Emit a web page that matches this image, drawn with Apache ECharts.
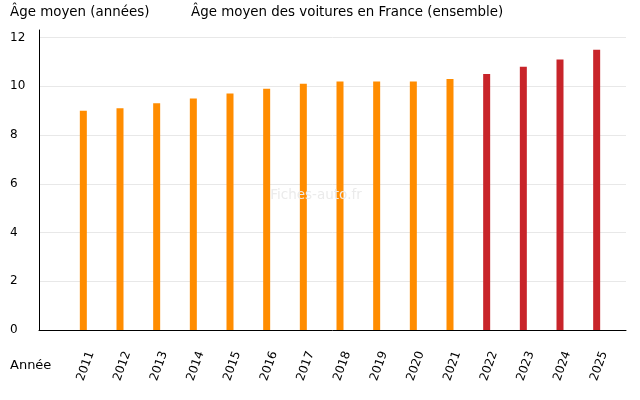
<!DOCTYPE html>
<html>
<head>
<meta charset="utf-8">
<script src="https://cdn.jsdelivr.net/npm/echarts@6/dist/echarts.min.js"></script>
<style>html,body{margin:0;padding:0;background:#fff}#c{width:640px;height:400px}</style>
</head>
<body>
<div id="c"></div>
<script>
const years = ['2011','2012','2013','2014','2015','2016','2017','2018','2019','2020','2021','2022','2023','2024','2025'];
const ages = [9.0, 9.1, 9.3, 9.5, 9.7, 9.9, 10.1, 10.2, 10.2, 10.2, 10.3, 10.5, 10.8, 11.1, 11.5];
const firstForecastYear = '2022';
const yTicks = [0, 2, 4, 6, 8, 10, 12];
const yAxisTitle = 'Âge moyen (années)';
const chartTitle = 'Âge moyen des voitures en France (ensemble)';
const xAxisTitle = 'Année';
const watermark = 'Fiches-auto.fr';

const FONT = 'DejaVu Sans';
const ORANGE = '#ff8c00';
const RED = '#c8242a';
const YMAX = 12.31;

const chart = echarts.init(document.getElementById('c'), null, {renderer: 'canvas'});
chart.setOption({
  animation: false,
  backgroundColor: '#fff',
  title: [
    {text: yAxisTitle, left: 10, top: 6, padding: 0,
     textStyle: {fontFamily: FONT, fontSize: 13.4, fontWeight: 'normal', color: '#000'}},
    {text: chartTitle, left: 191, top: 6, padding: 0,
     textStyle: {fontFamily: FONT, fontSize: 13.4, fontWeight: 'normal', color: '#000'}}
  ],
  graphic: [
    {type: 'text', left: 10, top: 359, style: {text: xAxisTitle, font: '13px "DejaVu Sans"', fill: '#000'}},
    {type: 'text', x: 316, y: 195, style: {text: watermark, font: '13.5px "DejaVu Sans"', fill: '#ebebeb', align: 'center', verticalAlign: 'middle'}, z: 100}
  ],
  grid: [
    {left: 39, right: 14, top: 30, bottom: 70},
    {left: 65, right: 25, top: 30, bottom: 70}
  ],
  xAxis: [
    {gridIndex: 0, type: 'value', min: 0, max: 1, axisLine: {show: true, lineStyle: {color: '#000', width: 1}},
     axisTick: {show: false}, axisLabel: {show: false}, splitLine: {show: false}},
    {gridIndex: 1, type: 'category', data: years, boundaryGap: true,
     axisLine: {show: false}, axisTick: {show: false},
     axisLabel: {interval: 0, rotate: 70, margin: 19, verticalAlign: 'top', padding: [2, 0, 0, 0],
       fontFamily: FONT, fontSize: 12, color: '#000'}}
  ],
  yAxis: [
    {gridIndex: 0, type: 'value', min: 0, max: YMAX, interval: 2,
     axisLine: {show: true, lineStyle: {color: '#000', width: 1}},
     axisTick: {show: false},
     axisLabel: {align: 'left', margin: 29, fontFamily: FONT, fontSize: 12, color: '#000',
       verticalAlign: 'middle', padding: [0, 0, 8, 0], showMaxLabel: false,
       formatter: v => (yTicks.indexOf(v) >= 0 ? String(v) : '')},
     splitLine: {show: true, showMaxLine: false, lineStyle: {color: '#e8e8e8', width: 1}}},
    {gridIndex: 1, type: 'value', min: 0, max: YMAX, show: false, splitLine: {show: false}}
  ],
  series: [{
    type: 'bar', xAxisIndex: 1, yAxisIndex: 1, barWidth: 7,
    data: ages.map((v, i) => ({value: v, itemStyle: {color: years[i] >= firstForecastYear ? RED : ORANGE}}))
  }]
});
</script>
</body>
</html>
